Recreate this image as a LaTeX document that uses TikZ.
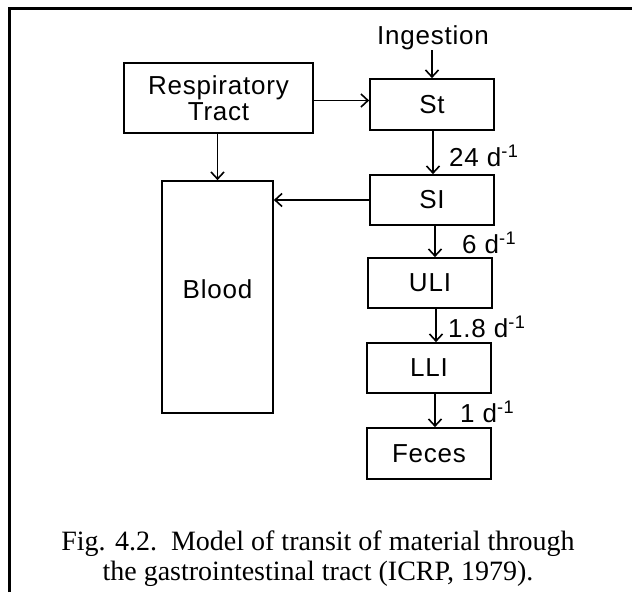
\documentclass[tikz,border=0pt]{standalone}
\usepackage{fontspec}
\setmainfont{Liberation Serif}
\newfontfamily\diag[LetterSpace=3]{Liberation Sans}
\usetikzlibrary{arrows.meta}
\begin{document}
\begin{tikzpicture}[x=1pt,y=-1pt,
  box/.style={draw, line width=1.7pt, inner sep=0pt, align=center,
    font=\diag\fontsize{26}{26}\selectfont},
  lbl/.style={anchor=west, inner sep=0pt, font=\diag\fontsize{26}{26}\selectfont},
  arr/.style={line width=1.6pt, -{Straight Barb[length=7pt,width=13pt,line width=1.6pt]}}]
\useasboundingbox (0,0) rectangle (632,592);
\draw[line width=3pt] (9,592) -- (9,8) -- (632,8);
% nodes
\node[lbl, anchor=center] (ing) at (433,38) {Ingestion};
\node[box, minimum width=189pt, minimum height=70pt] (resp) at (218.5,98) {Respiratory\\Tract};
\node[box, minimum width=124pt, minimum height=51pt] (st) at (432,104.5) {St};
\node[box, minimum width=124pt, minimum height=50pt] (si) at (432,200) {SI};
\node[box, minimum width=124pt, minimum height=50pt] (uli) at (430,283) {ULI};
\node[box, minimum width=124pt, minimum height=50pt] (lli) at (429,368) {LLI};
\node[box, minimum width=124pt, minimum height=51pt] (fec) at (429,453.5) {Feces};
\node[box, minimum width=111pt, minimum height=232pt] (blood) at (217.5,297) {\raisebox{16pt}{Blood}};
% rate labels
\node[lbl] (r1) at (449,156) {24 d\textsuperscript{-1}};
\node[lbl] (r2) at (462,243) {6 d\textsuperscript{-1}};
\node[lbl] (r3) at (448,327) {1.8 d\textsuperscript{-1}};
\node[lbl] (r4) at (460,412) {1 d\textsuperscript{-1}};
% connectors
\draw[arr] (ing.south -| st.north) -- (st.north);
\draw[arr] ([yshift=-2.5pt]resp.east) -- ([yshift=-2.5pt]resp.east -| st.west);
\draw[arr] (resp.south -| blood.north) -- (blood.north);
\draw[arr] (si.west) -- (si.west -| blood.east);
\draw[arr] ([xshift=1pt]st.south) -- ([xshift=1pt]st.south |- si.north);
\draw[arr] ([xshift=3pt]si.south) -- ([xshift=3pt]si.south |- uli.north);
\draw[arr] ([xshift=6pt]uli.south) -- ([xshift=6pt]uli.south |- lli.north);
\draw[arr] ([xshift=6pt]lli.south) -- ([xshift=6pt]lli.south |- fec.north);
% caption
\node[align=center, inner sep=0pt, font=\fontsize{28}{30}\selectfont] (cap) at (318,559)
  {Fig. 4.2.\ \ Model of transit of material through\\the gastrointestinal tract (ICRP, 1979).};
\end{tikzpicture}
\end{document}
